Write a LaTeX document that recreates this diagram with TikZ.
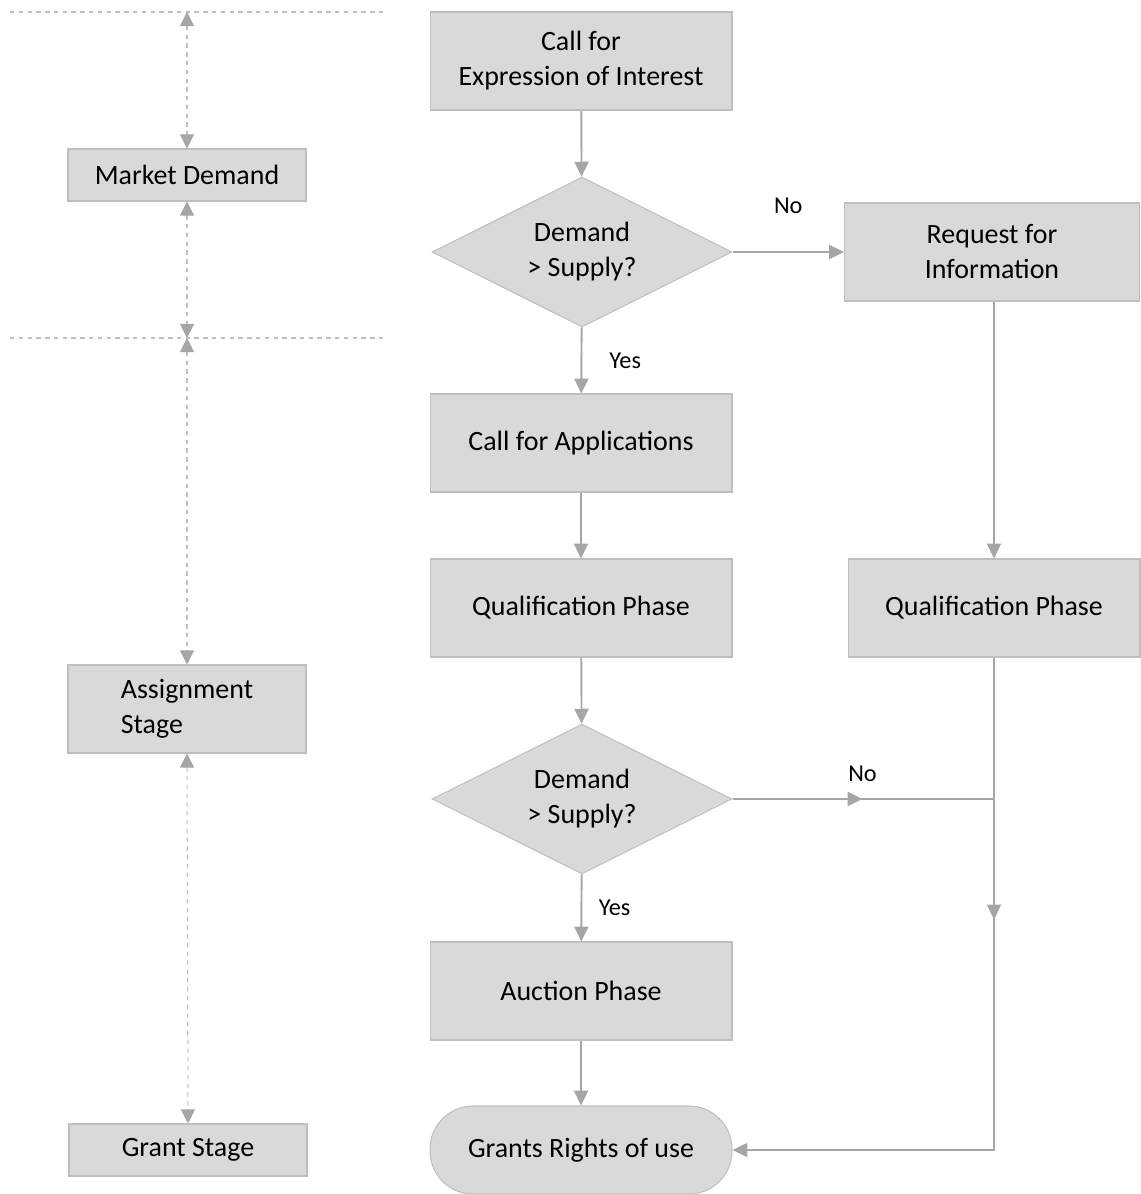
\documentclass[tikz,border=0pt]{standalone}
\usepackage{fontspec}
\setmainfont{Carlito}
\usepackage{tikz}
\usetikzlibrary{arrows.meta}
\usetikzlibrary{shapes.geometric}
\definecolor{boxfill}{HTML}{D9D9D9}
\definecolor{boxline}{HTML}{BFBFBF}
\definecolor{flowgray}{HTML}{A6A6A6}
\tikzset{
  base/.style={fill=boxfill, draw=boxline, line width=0.6pt, inner sep=2pt,
    font=\fontsize{15.9}{19.9}\selectfont, align=center},
  stepbox/.style={base, rectangle, minimum width=6.04cm, minimum height=1.96cm},
  stagebox/.style={base, rectangle, minimum width=4.76cm, minimum height=1.04cm},
  decide/.style={base, diamond, aspect=2, minimum width=6cm, minimum height=3cm, inner sep=0pt},
  terminal/.style={base, rectangle, rounded corners=0.86cm, minimum width=6.04cm, minimum height=1.76cm},
  flow/.style={draw=flowgray, line width=1.1pt, -{Triangle[length=8.5pt,width=8pt]}},
  plain/.style={draw=flowgray, line width=1.1pt},
  span/.style={draw=boxline, line width=0.6pt, dash pattern=on 2.5pt off 2.5pt,
    {Triangle[length=8pt,width=8pt,fill=flowgray,color=flowgray]}-{Triangle[length=8pt,width=8pt,fill=flowgray,color=flowgray]}},
  divider/.style={draw=boxline, line width=0.6pt, dash pattern=on 2.5pt off 2.5pt},
  answer/.style={font=\fontsize{13.8}{16}\selectfont}
}
\begin{document}
\begin{tikzpicture}[x=0.02cm, y=-0.02cm]
\useasboundingbox (0, 0) rectangle (1141, 1194);
% stages on the left
\draw[divider] (10, 12) -- (383, 12);
\draw[divider] (10, 338) -- (383, 338);
\coordinate (topmark) at (187, 12);
\coordinate (midmark) at (187, 338);
\node[stagebox] (market) at (187, 175) {Market Demand};
\node[stagebox, minimum height=1.76cm, align=left] (assign) at (187, 709) {Assignment\\Stage};
\node[stagebox] (grant) at (188, 1150) {Grant Stage};
\draw[span] (topmark) -- (market.north);
\draw[span] (market.south) -- (midmark);
\draw[span] (midmark) -- (assign.north);
\draw[span] (assign.south) -- (grant.north);
% main flow
\node[stepbox] (eoi) at (581, 61) {Call for\\Expression of Interest};
\node[decide] (firstcheck) at (582, 252) {Demand\\> Supply?};
\node[stepbox] (cfa) at (581, 443) {Call for Applications};
\node[stepbox] (qual) at (581, 608) {Qualification Phase};
\node[decide] (secondcheck) at (582, 799) {Demand\\> Supply?};
\node[stepbox] (auction) at (581, 991) {Auction Phase};
\node[terminal] (rights) at (581, 1150) {Grants Rights of use};
% side branch
\node[stepbox, minimum width=5.9cm] (rfi) at (992, 252) {Request for\\Information};
\node[stepbox, minimum width=5.84cm] (qualside) at (994, 608) {Qualification Phase};
\coordinate (merge) at (994, 799);
\draw[flow] (eoi) -- (firstcheck);
\draw[flow] (firstcheck) -- (cfa) node[answer, pos=0.5, right=12pt] {Yes};
\draw[flow] (firstcheck) -- (rfi) node[answer, pos=0.5, above=18pt] {No};
\draw[flow] (cfa) -- (qual);
\draw[flow] (qual) -- (secondcheck);
\draw[flow] (secondcheck) -- (auction) node[answer, pos=0.5, right=6pt] {Yes};
\draw[flow] (auction) -- (rights);
\draw[flow] (rfi.south -| qualside.north) -- (qualside.north);
\draw[plain] (secondcheck.east) -- (merge);
\draw[flow] (secondcheck.east) -- ++(130, 0) node[answer, above=6pt] {No};
\draw[flow] (qualside.south) -- ++(0, 262);
\draw[flow] (qualside.south) |- (rights.east);
\end{tikzpicture}
\end{document}
